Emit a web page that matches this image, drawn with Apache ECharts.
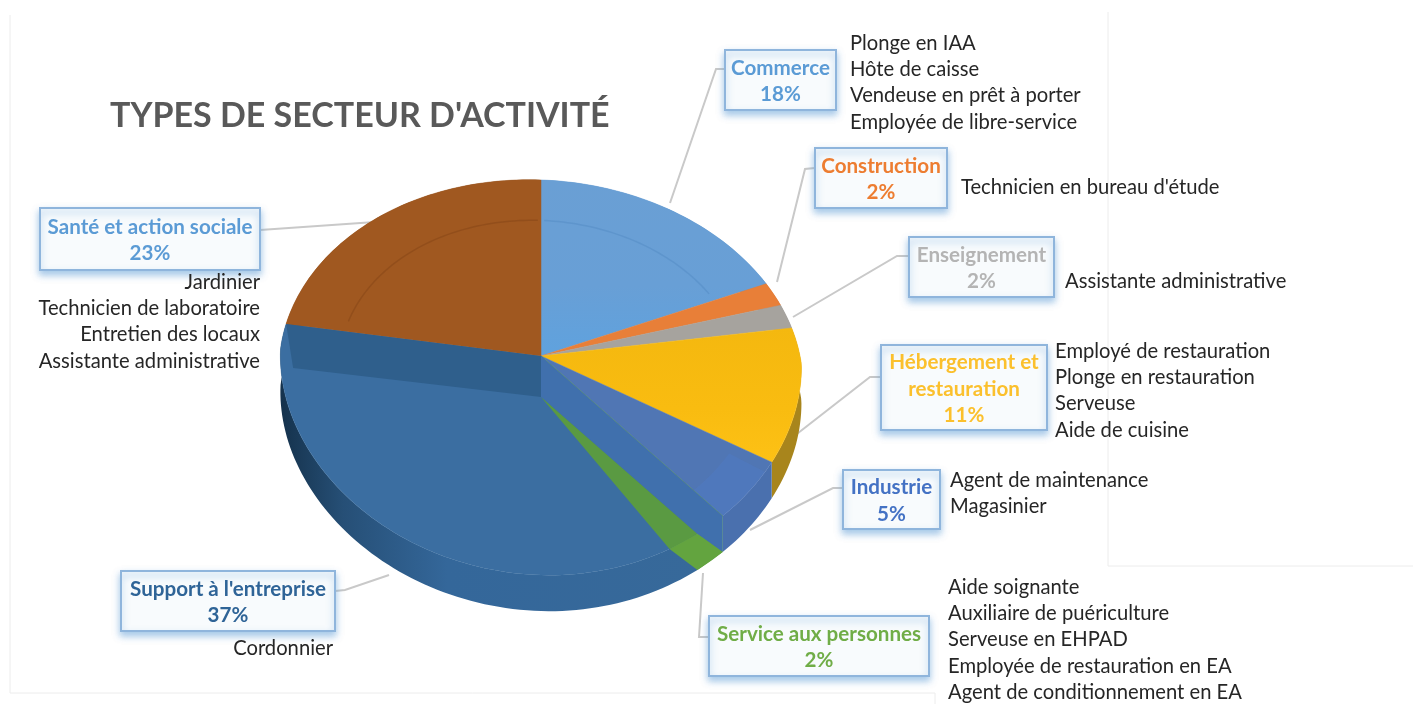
<!DOCTYPE html>
<html><head><meta charset="utf-8">
<style>html,body{margin:0;padding:0;background:#fff}#c{width:1413px;height:704px}</style>
<script src="https://cdn.jsdelivr.net/npm/echarts@6/dist/echarts.min.js"></script>
</head><body><div id="c"></div>
<script>
// ---- data ----
const sectors = ['Commerce','Construction','Enseignement','Hébergement et\nrestauration','Industrie','Service aux personnes',"Support à l'entreprise",'Santé et action sociale'];
const shares  = [18,2,2,11,5,2,37,23];
const jobsCommerce = ['Plonge en IAA','Hôte de caisse','Vendeuse en prêt à porter','Employée de libre-service'];
const jobsConstruction = ["Technicien en bureau d'étude"];
const jobsEnseignement = ['Assistante administrative'];
const jobsHebergement = ['Employé de restauration','Plonge en restauration','Serveuse','Aide de cuisine'];
const jobsIndustrie = ['Agent de maintenance','Magasinier'];
const jobsService = ['Aide soignante','Auxiliaire de puériculture','Serveuse en EHPAD','Employée de restauration en EA','Agent de conditionnement en EA'];
const jobsSupport = ['Cordonnier'];
const jobsSante = ['Jardinier','Technicien de laboratoire','Entretien des locaux','Assistante administrative'];
const chartTitle = "TYPES DE SECTEUR D'ACTIVITÉ";

// ---- styling ----
const faceColors = ['#679fd6','#e87f38','#a6a39e','#fbbd12','#5076b4','#5b9a42','#3b6ea1','#a05820'];
const sideColors = ['#5a8dc0','#c96a28','#8f8f8f','#a8851c','#4a70ae','#62a340','#356a9c','#7d4517'];
const labelColors = ['#5b9bd5','#ed7d31','#b4b4b4','#fbc02d','#4472c4','#70ad47','#2f6497','#5b9bd5'];
const boxes = [ // x,y,w,h
 [725,50,111,60],[815,148,132,60],[909,237,145,60],[881,345,166,85],
 [843,470,97,59],[709,616,220,60],[121,571,214,60],[40,208,220,62]];
const leaders = [
 [[725,69],[716,69],[670,203]],[[815,168],[805,169],[777,282]],[[909,256],[897,256],[793,317]],
 [[881,377],[870,377],[793,437]],[[843,488],[833,488],[750,530]],[[709,637],[699,637],[703,573]],
 [[121+214,591],[345,590],[389,575]],[[260,230],[375,222]]];
const jobBlocks = [
 [jobsCommerce,850,30,'left'],[jobsConstruction,961,174,'left'],[jobsEnseignement,1065,268,'left'],
 [jobsHebergement,1055,338,'left'],[jobsIndustrie,950,467,'left'],[jobsService,948,574,'left'],
 [jobsSupport,333,635,'right'],[jobsSante,260,269,'right']];
const FONT='Lato, "Open Sans", sans-serif';

// ---- pie projection ----
const CX=541,CY=356,A=260.4,B=195.2,K=0.1089,SHEAR=8,DEPTH=36,WALL=41;
const total=shares.reduce((s,v)=>s+v,0);
let run=0;
const slices=shares.map((v,i)=>{const a=run*360/total;run+=v;return [a,run*360/total,i];});
function rim(deg,drop=0,scale=1){
  const t=deg*Math.PI/180,u=Math.sin(t),v=Math.cos(t),w=1+K*v;
  const pinch=v<0?(u>0?24:18)*u*(-v):0;
  return [CX+scale*(A*u/w-pinch), CY+scale*(-B*v/w+SHEAR*u)+drop];
}
function arc(a,b,drop=0,scale=1){
  const n=Math.max(2,Math.ceil(Math.abs(b-a)/1.5)),p=[];
  for(let i=0;i<=n;i++)p.push(rim(a+(b-a)*i/n,drop,scale));
  return p;
}
const poly=(points,fill,extra)=>({type:'polygon',shape:{points},style:Object.assign({fill},extra||{})});
const line=(points,stroke)=>({type:'polyline',shape:{points},style:{fill:null,stroke,lineWidth:1.5}});
const iCommerce=0,iHebergement=3,iIndustrie=4,iService=5,iSupport=6,iSante=7;
const vGrad=(c0,c1,c2)=>new echarts.graphic.LinearGradient(0,0,0,1,[{offset:0,color:c0},{offset:.6,color:c1},{offset:1,color:c2}]);

function renderSide(p,api){
  const a=api.value(0),b=api.value(1),i=api.value(2);
  const pts=arc(a,b,0).concat(arc(a,b,DEPTH).reverse());
  let fill=sideColors[i];
  if(i===iSupport) fill=new echarts.graphic.LinearGradient(1,0,0,0,[
    {offset:0,color:'#37699a'},{offset:.6,color:'#34679a'},{offset:.85,color:'#264f76'},{offset:1,color:'#15324c'}]);
  return poly(pts,fill);
}
function renderFace(p,api){
  const a=api.value(0),b=api.value(1),i=api.value(2);
  let fill=faceColors[i];
  if(i===iCommerce) fill=vGrad('#6a9fd4','#689fd6','#5fa2de');
  if(i===iHebergement) fill=vGrad('#f4b80f','#f9bc10','#fdc115');
  const kids=[poly([[CX,CY]].concat(arc(a,b)),fill,{stroke:faceColors[i],lineWidth:.5})];
  if(i===iCommerce) kids.push(line(arc(a+1,b-3,0,.77),'rgba(70,125,185,.3)'));
  if(i===iSante) kids.push(line(arc(a+4,b-1,0,.77),'rgba(110,55,15,.28)'));
  if(i===iIndustrie) kids.push(poly(arc(a+3,b,0,1).concat(arc(a+3,b,0,.84).reverse()),'rgba(80,125,210,.3)'));
  return {type:'group',children:kids};
}
function renderWall(p,api){
  const i=api.value(2),a=api.value(0),b=api.value(1),w=b-a;
  const low=[CX,CY+WALL];
  if(i===iSupport){
    const e=rim(b),l=rim(b,WALL+3);
    return poly([[CX,CY],e,[l[0]+7,l[1]],low],'#2f5f8c');
  }
  if(i===iService) return {type:'group',children:[
    poly([low].concat(arc(b,b+w)),'#5a9a42'),
    poly([rim(b),rim(a,DEPTH),rim(b,DEPTH),rim(b+w)],'#63a43f')]};
  if(i===iIndustrie) return poly([[CX,CY],rim(b),rim(b,DEPTH),rim(b+(b-a)*.4),low],'#4070ad');
  return null;
}
const keep=slices.filter(s=>[iSupport,iService,iIndustrie].includes(s[2]));

// ---- annotations ----
const g=[];
[[10,15,10,693],[10,693,935,693],[935,693,935,704],[1108,12,1108,566],[1108,566,1413,566]].forEach(l=>
  g.push({type:'line',shape:{x1:l[0],y1:l[1],x2:l[2],y2:l[3]},style:{stroke:'#ececec',lineWidth:1},silent:true}));
leaders.forEach(pts=>g.push({type:'polyline',shape:{points:pts},style:{fill:null,stroke:'#c9c9c9',lineWidth:2}}));
boxes.forEach((b,i)=>{
  g.push({type:'rect',shape:{x:b[0],y:b[1],width:b[2],height:b[3]},
    style:{fill:'#f8fbfd',stroke:'#8fb5dc',lineWidth:2,shadowBlur:7,shadowOffsetY:4,shadowColor:'rgba(91,155,213,.55)'}});
  g.push({type:'text',x:b[0]+b[2]/2,y:b[1]+b[3]/2+1.5,
    style:{text:sectors[i]+'\n'+shares[i]+'%',fill:labelColors[i],font:'bold 20.6px '+FONT,align:'center',verticalAlign:'middle',lineHeight:26.4}});
});
jobBlocks.forEach(b=>g.push({type:'text',x:b[1],y:b[2],
  style:{text:b[0].join('\n'),fill:'#262626',font:'20.2px '+FONT,align:b[3],verticalAlign:'top',lineHeight:26.3}}));

const chart=echarts.init(document.getElementById('c'),null,{renderer:'canvas'});
chart.setOption({
  animation:false,backgroundColor:'#fff',
  title:{text:chartTitle,left:110,top:99,padding:0,textStyle:{color:'#595959',fontFamily:FONT,fontWeight:'bold',fontSize:34}},
  graphic:{elements:g},
  series:[
   {type:'custom',coordinateSystem:'none',z:3,silent:true,renderItem:renderSide,data:slices},
   {type:'custom',coordinateSystem:'none',z:4,silent:true,renderItem:renderFace,data:slices},
   {type:'custom',coordinateSystem:'none',z:5,silent:true,renderItem:renderWall,data:keep}
  ]
});
</script></body></html>
